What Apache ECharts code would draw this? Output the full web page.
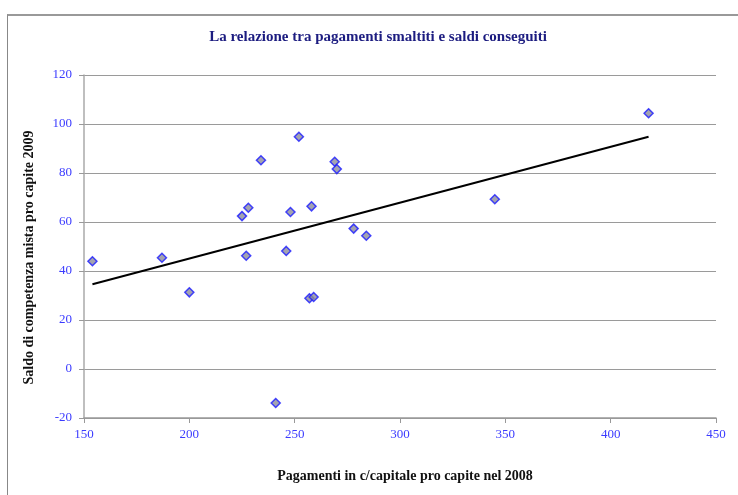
<!DOCTYPE html>
<html>
<head>
<meta charset="utf-8">
<script src="https://cdn.jsdelivr.net/npm/echarts@6/dist/echarts.min.js"></script>
<style>
  html, body { margin: 0; padding: 0; background: #fff; }
  #frame { position: absolute; left: 7px; top: 14px; width: 760px; height: 500px; border-left: 1px solid #888; border-top: 2px solid #999; }
  #chart { position: absolute; left: 0; top: 0; width: 738px; height: 495px; }
</style>
</head>
<body>
<div id="frame"></div>
<div id="chart"></div>
<script>
// pagamenti in c/capitale pro capite 2008 (x) e saldo di competenza mista 2009 (y)
var pagamenti = [154, 187, 200, 225, 228, 227, 234, 241, 246, 248, 252, 257, 259, 258, 269, 270, 278, 284, 345, 418];
var saldi     = [44, 45.4, 31.3, 62.4, 65.8, 46.2, 85.2, -13.9, 48.2, 64.1, 94.8, 28.9, 29.4, 66.4, 84.6, 81.6, 57.3, 54.4, 69.3, 104.4];
// linea di tendenza (estremi)
var trendX = [154, 418];
var trendY = [34.6, 94.8];

var chartDom = document.getElementById('chart');
var myChart = echarts.init(chartDom);

var punti = pagamenti.map(function (v, i) { return [v, saldi[i]]; });
var trend = trendX.map(function (v, i) { return [v, trendY[i]]; });

var tickColor = '#3b3bff';
var serif = '"Liberation Serif", "DejaVu Serif", serif';

var option = {
    animation: false,
    title: {
        text: 'La relazione tra pagamenti smaltiti e saldi conseguiti',
        left: 373,
        top: 25,
        textAlign: 'center',
        textStyle: {
            color: '#1c1c80',
            fontSize: 15,
            fontWeight: 'bold',
            fontFamily: serif
        }
    },
    grid: {
        left: 84,
        right: 22,
        top: 75,
        bottom: 77
    },
    xAxis: {
        type: 'value',
        min: 150,
        max: 450,
        interval: 50,
        name: 'Pagamenti in c/capitale pro capite nel 2008',
        nameLocation: 'middle',
        nameGap: 51,
        nameTextStyle: {
            color: '#111',
            fontSize: 14,
            fontWeight: 'bold',
            fontFamily: serif,
            padding: [0, 0, 0, 10]
        },
        axisLine: { onZero: false, lineStyle: { color: '#999', width: 1.5 } },
        axisTick: { show: true, length: 5, lineStyle: { color: '#999' } },
        axisLabel: { color: tickColor, fontSize: 13, fontFamily: serif, margin: 10 },
        splitLine: { show: false }
    },
    yAxis: {
        type: 'value',
        min: -20,
        max: 120,
        interval: 20,
        name: 'Saldo di competenza mista pro capite 2009',
        nameLocation: 'middle',
        nameRotate: 90,
        nameGap: 48,
        nameTextStyle: {
            color: '#111',
            fontSize: 14,
            fontWeight: 'bold',
            fontFamily: serif,
            padding: [0, 22, 0, 0]
        },
        axisLine: { show: true, onZero: false, lineStyle: { color: '#aaa', width: 1.5 } },
        axisTick: { show: true, length: 5, lineStyle: { color: '#999' } },
        axisLabel: { color: tickColor, fontSize: 13, fontFamily: serif, margin: 12 },
        splitLine: { show: true, lineStyle: { color: '#9a9a9a', width: 1 } }
    },
    series: [
        {
            type: 'line',
            data: trend,
            symbol: 'none',
            lineStyle: { color: '#000', width: 2 },
            z: 2
        },
        {
            type: 'scatter',
            data: punti,
            symbol: 'diamond',
            symbolSize: 9,
            itemStyle: {
                color: '#8c8c9c',
                borderColor: '#1a1aff',
                borderWidth: 1.5
            },
            z: 3
        }
    ]
};

option && myChart.setOption(option);
</script>
</body>
</html>
